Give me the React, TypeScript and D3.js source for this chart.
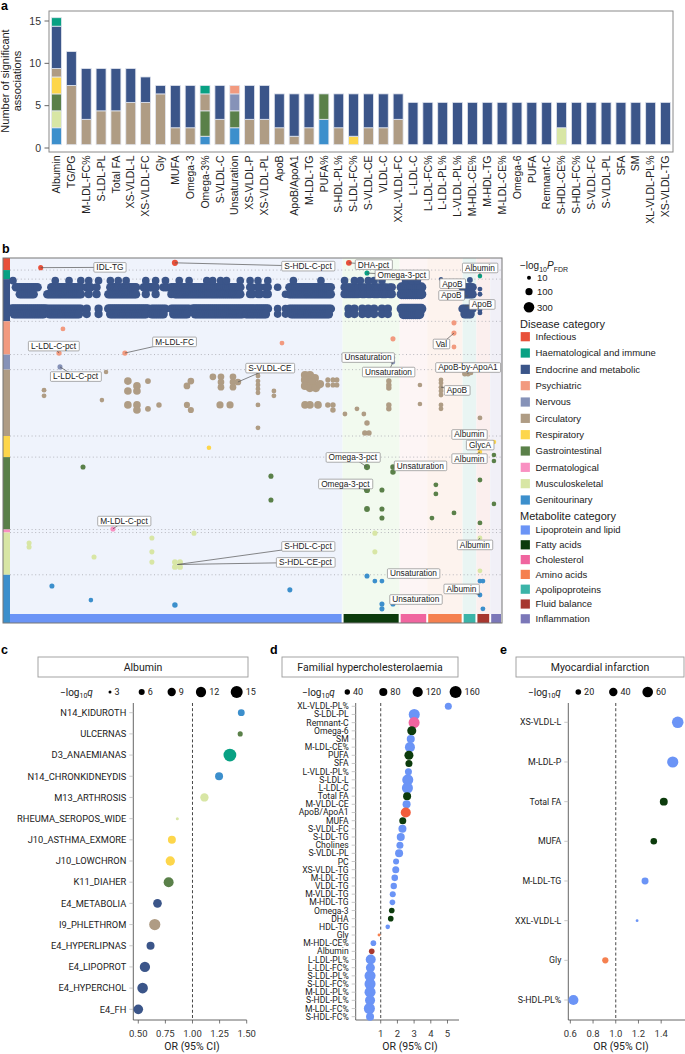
import React, { useEffect, useRef } from 'react';
import * as d3 from 'd3';

const FONT_A = "'Liberation Sans', Arial, Helvetica, sans-serif";
const FONT_R = "Roboto, 'Liberation Sans', Arial, sans-serif";

// ---------------- shared categories ----------------
const diseaseCategories = ['Infectious', 'Haematological and immune', 'Endocrine and metabolic', 'Psychiatric', 'Nervous', 'Circulatory', 'Respiratory', 'Gastrointestinal', 'Dermatological', 'Musculoskeletal', 'Genitourinary'];
const diseaseColors = ['#e8503a', '#08a183', '#3b5589', '#f29a7f', '#8692b8', '#af9c84', '#fdd64b', '#5a8049', '#f990c2', '#d8e6a5', '#3c8fcc'];
const metaboliteCategories = ['Lipoprotein and lipid', 'Fatty acids', 'Cholesterol', 'Amino acids', 'Apolipoproteins', 'Fluid balance', 'Inflammation'];
const metaboliteColors = ['#6b94f6', '#0c3b0c', '#f0659f', '#f5804f', '#3bb4a8', '#a7372f', '#7b77b8'];
const metaboliteBgColors = ['#eff3fc', '#f2faef', '#fdf5f5', '#fdf3ee', '#e9f5f3', '#fbefee', '#f1f0f7'];
const ratioColor = '#f25c3b';

// ---------------- panel a ----------------
const barMetabolites = ['Albumin', 'TG/PG', 'M-LDL-FC%', 'S-LDL-PL', 'Total FA', 'XS-VLDL-L', 'XS-VLDL-FC', 'Gly', 'MUFA', 'Omega-3', 'Omega-3%', 'S-VLDL-C', 'Unsaturation', 'XS-VLDL-P', 'XS-VLDL-PL', 'ApoB', 'ApoB/ApoA1', 'M-LDL-TG', 'PUFA%', 'S-HDL-PL%', 'S-LDL-FC%', 'S-VLDL-CE', 'VLDL-C', 'XXL-VLDL-FC', 'L-LDL-C', 'L-LDL-FC%', 'L-LDL-PL%', 'L-VLDL-PL%', 'M-HDL-CE%', 'M-HDL-TG', 'M-LDL-CE%', 'Omega-6', 'PUFA', 'Remnant-C', 'S-HDL-CE%', 'S-HDL-FC%', 'S-VLDL-FC', 'S-VLDL-PL', 'SFA', 'SM', 'XL-VLDL-PL%', 'XS-VLDL-TG'];
const countsGenitourinary = [2, 0, 0, 0, 0, 0, 0, 0, 0, 0, 1, 0, 2, 0, 0, 0, 0, 0, 3, 0, 0, 0, 0, 0, 0, 0, 0, 0, 0, 0, 0, 0, 0, 0, 0, 0, 0, 0, 0, 0, 0, 0];
const countsMusculoskeletal = [2, 0, 0, 0, 0, 0, 0, 0, 0, 0, 0, 0, 0, 0, 0, 0, 0, 0, 0, 0, 0, 0, 0, 0, 0, 0, 0, 0, 0, 0, 0, 0, 0, 0, 2, 0, 0, 0, 0, 0, 0, 0];
const countsGastrointestinal = [2, 0, 0, 0, 0, 0, 0, 0, 0, 0, 3, 0, 2, 0, 0, 0, 0, 0, 3, 0, 0, 0, 0, 0, 0, 0, 0, 0, 0, 0, 0, 0, 0, 0, 0, 0, 0, 0, 0, 0, 0, 0];
const countsRespiratory = [2, 0, 0, 0, 0, 0, 0, 0, 0, 0, 0, 0, 0, 0, 0, 0, 0, 0, 0, 0, 1, 0, 0, 0, 0, 0, 0, 0, 0, 0, 0, 0, 0, 0, 0, 0, 0, 0, 0, 0, 0, 0];
const countsCirculatory = [1, 7, 3, 4, 4, 5, 5, 6, 2, 2, 2, 3, 0, 3, 3, 2, 1, 2, 0, 2, 0, 2, 2, 3, 0, 0, 0, 0, 0, 0, 0, 0, 0, 0, 0, 0, 0, 0, 0, 0, 0, 0];
const countsNervous = [0, 0, 0, 0, 0, 0, 0, 0, 0, 0, 0, 0, 2, 0, 0, 0, 0, 0, 0, 0, 0, 0, 0, 0, 0, 0, 0, 0, 0, 0, 0, 0, 0, 0, 0, 0, 0, 0, 0, 0, 0, 0];
const countsPsychiatric = [0, 0, 0, 0, 0, 0, 0, 0, 0, 0, 0, 0, 1, 0, 0, 0, 0, 0, 0, 0, 0, 0, 0, 0, 0, 0, 0, 0, 0, 0, 0, 0, 0, 0, 0, 0, 0, 0, 0, 0, 0, 0];
const countsEndocrine = [5, 4, 6, 5, 5, 4, 3, 1, 5, 5, 0, 4, 0, 4, 4, 4, 5, 4, 0, 4, 5, 4, 4, 3, 5, 5, 5, 5, 5, 5, 5, 5, 5, 5, 3, 5, 5, 5, 5, 5, 5, 5];
const countsHaematological = [1, 0, 0, 0, 0, 0, 0, 0, 0, 0, 1, 0, 0, 0, 0, 0, 0, 0, 0, 0, 0, 0, 0, 0, 0, 0, 0, 0, 0, 0, 0, 0, 0, 0, 0, 0, 0, 0, 0, 0, 0, 0];
const yTicksA = [0, 5, 10, 15];

// ---------------- panel b ----------------
const diseasesPerCategory = [4, 3, 14, 11, 5, 22, 7, 24, 1, 14, 13];
const metabolitesPerCategory = [169, 29, 14, 18, 7, 7, 6];
// endocrine disease rows: runs of consecutive significant metabolites [diseaseRow, firstMetabolite, lastMetabolite, -log10P]
const endocrineRunsRow1 = [[3, 14, 170], [21, 36, 170], [39, 41, 170], [44, 44, 150], [51, 55, 170], [57, 64, 170], [68, 74, 170], [78, 80, 150], [82, 117, 170], [122, 123, 150], [126, 127, 150], [130, 131, 150], [136, 136, 120], [142, 163, 170], [170, 177, 150], [179, 180, 150], [182, 183, 150], [185, 187, 150], [189, 191, 150], [193, 194, 150], [199, 209, 260], [230, 235, 170]];
const endocrineRunsRow2 = [[5, 12, 170], [19, 36, 170], [40, 40, 150], [44, 44, 150], [50, 64, 170], [69, 69, 150], [74, 74, 150], [82, 82, 150], [84, 117, 170], [122, 123, 150], [126, 127, 150], [130, 131, 150], [140, 140, 120], [142, 163, 170], [170, 177, 150], [179, 180, 150], [182, 183, 150], [185, 187, 150], [189, 191, 150], [193, 194, 150], [199, 209, 260], [230, 235, 170]];
const endocrineRunsRow3 = [[1, 18, 180], [19, 36, 170], [39, 39, 150], [45, 45, 150], [50, 70, 180], [72, 79, 170], [82, 91, 170], [93, 131, 180], [136, 136, 120], [140, 140, 120], [142, 163, 170], [172, 172, 150], [175, 175, 150], [179, 179, 150], [182, 182, 150], [185, 185, 150], [189, 189, 150], [192, 192, 150], [199, 209, 260], [230, 235, 170]];
const endocrineRunsRow4 = [[2, 17, 170], [20, 35, 170], [39, 39, 150], [45, 45, 150], [51, 69, 180], [72, 78, 170], [83, 90, 170], [94, 118, 180], [120, 130, 170], [136, 136, 120], [140, 140, 120], [143, 162, 170], [172, 172, 150], [175, 175, 150], [179, 179, 150], [182, 182, 150], [185, 185, 150], [189, 189, 150], [192, 192, 150], [200, 208, 260], [231, 234, 170]];
const endocrineRunRows = [9.7, 12, 16.8, 18.6];
const endocrineSparseRow = 7.5;
const endocrineSparseMetabolites = [1.5, 23, 30, 36, 40, 45, 51, 55, 59, 69, 74, 79, 86, 91, 100, 103, 107, 110, 117, 122, 126, 131, 144, 158, 170, 175, 178, 182, 185, 189, 201, 204, 207];
// [metabolite, disease, -log10P]
const infectiousPoints = [[15.6, 3.2, 30], [83.8, 1.6, 60], [172.2, 1.6, 50]];
const haematologicalPoints = [[181.4, 5.0, 30], [238.8, 6.0, 20]];
const endocrinePoints = [[219, 7.0, 15], [233.7, 7.3, 50], [238.8, 10.3, 25], [238.8, 12, 25], [238.8, 17.2, 25], [238.8, 18.2, 25]];
const psychiatricPoints = [[26.9, 23.5, 25], [24.9, 31.5, 35], [58.4, 31.5, 35], [138.2, 28.2, 25], [194.6, 26.8, 30], [225.6, 21.5, 30], [225.6, 24.9, 30], [225.6, 29.5, 25]];
const nervousPoints = [[25.4, 36.1, 30], [194.6, 33.1, 20], [194.6, 34.5, 20]];
const circulatoryPoints = [
  [48.8, 37.8, 20], [126, 37.8, 25], [126, 39.1, 25], [126, 40.8, 25], [126, 42.1, 25], [126, 43.4, 25], [126, 44.7, 25], [126, 48.7, 25], [126, 56.3, 25],
  [17.3, 43.8, 25], [17.3, 45.7, 25],
  [59.9, 40.8, 120], [64.5, 42.4, 120], [59.9, 44.1, 120], [64.5, 44.1, 120], [70.1, 40.8, 50],
  [91.9, 40.8, 80], [89.9, 42.4, 80],
  [103.1, 39.4, 80], [107.2, 39.4, 80], [107.2, 41.1, 80], [107.2, 42.8, 80], [113.3, 39.4, 80], [113.3, 41.1, 80], [113.3, 42.8, 80], [115.8, 41.1, 80],
  [134.1, 44.1, 25], [134.1, 45.7, 25],
  [149.9, 38.8, 150], [152.4, 38.8, 150], [154.9, 39.8, 150], [149.9, 40.4, 150], [153.4, 41.1, 150], [156.5, 42.1, 150], [149.9, 42.4, 150], [152.4, 43.1, 150], [155.4, 43.1, 150], [157.5, 41.8, 150],
  [161.5, 40.4, 30], [164.1, 40.4, 30], [166.1, 40.4, 30], [161.5, 42.1, 30], [164.1, 42.1, 30], [166.1, 42.1, 30],
  [59.9, 48.7, 120], [64.5, 48.7, 120], [64.5, 50.4, 120], [70.1, 50, 50], [75.7, 48.7, 40], [89.9, 48.7, 60], [91.9, 50.4, 60], [106.7, 48.7, 100], [111.8, 48.7, 100], [149.9, 48.7, 120], [152.4, 48.7, 120], [156.5, 48.7, 120], [161.5, 48.7, 40], [164.1, 48.7, 40], [164.1, 50.4, 40],
  [46.7, 47.1, 20],
  [170.2, 51.7, 25], [176.3, 50, 25], [179.8, 51.7, 25], [181.4, 54.7, 40], [180.3, 58, 40], [182.4, 58, 40], [192.5, 40.8, 40], [192.5, 42.1, 40], [192.5, 43.1, 40], [192.5, 48.7, 40], [192.5, 50, 40], [208.3, 42.1, 20], [208.3, 48.4, 20],
  [219, 40.4, 25], [219, 41.4, 25], [219, 42.8, 25], [219, 44.1, 25], [219, 45.4, 25], [219, 48.7, 25], [219, 50, 25], [231.1, 38.4, 40], [232.7, 38.4, 40], [234.2, 38.1, 25], [238.8, 53, 25],
];
const respiratoryPoints = [[101.1, 62.9, 20], [238.8, 59.3, 20], [245.9, 61, 20], [238.8, 64.3, 20]];
const gastrointestinalPoints = [[37.1, 69.3, 30], [132.6, 72.3, 30], [132.6, 80.2, 30], [181.4, 69.3, 60], [181.4, 76.9, 60], [181.4, 83.2, 50], [189, 76.9, 30], [189, 83.2, 30], [189, 86.2, 30], [194.6, 69.3, 40], [194.6, 70.9, 40], [216.4, 75.2, 25], [216.4, 78.2, 25], [214.4, 86.2, 25], [225.6, 84.5, 25], [238.8, 73.6, 25], [238.8, 87.8, 25], [245.9, 65.3, 20], [245.9, 67.3, 20], [245.9, 81.5, 20]];
const dermatologicalPoints = [[52.3, 89.8, 30]];
const musculoskeletalPoints = [[9.7, 94.5, 30], [9.7, 95.8, 30], [42.7, 99.1, 30], [72.1, 92.8, 30], [72.1, 97.4, 30], [72.1, 100.8, 30], [93.5, 91.2, 30], [83.8, 100.8, 50], [86.4, 100.8, 50], [83.8, 102.4, 50], [86.4, 102.4, 50], [185.4, 91.2, 30], [185.4, 97.4, 30], [238.8, 92.8, 25], [238.8, 103.7, 25]];
const genitourinaryPoints = [[21.3, 108.7, 30], [41.1, 113.4, 20], [83.8, 115, 40], [142.2, 110, 30], [181.4, 105.4, 30], [185.4, 107.1, 25], [189, 107.1, 25], [194.6, 105.4, 30], [189, 114.7, 30], [189, 116.3, 30], [194.6, 114.7, 30], [238.8, 107.1, 25], [240.3, 107.1, 25], [238.8, 111.7, 25], [240.3, 116.3, 25]];
// annotations: [text, pointMetabolite, pointDisease, labelMetabolite, labelDisease]
const bAnnotations: Array<[string, number, number, number, number]> = [
  ['IDL-TG', 15.6, 3.2, 50.8, 3.1], ['S-HDL-C-pct', 83.8, 1.6, 151.4, 2.7], ['DHA-pct', 172.2, 1.6, 184.7, 2.2],
  ['Omega-3-pct', 181.4, 5.0, 199.1, 5.6], ['Albumin', 238.8, 6.0, 238.8, 3.3],
  ['ApoB', 219, 7.0, 224.8, 8.5], ['ApoB', 232.7, 12.6, 224.3, 12.4], ['ApoB', 231.1, 15.9, 239.8, 15.4],
  ['L-LDL-C-pct', 24.9, 31.5, 22.1, 29.2], ['M-LDL-FC', 58.4, 31.5, 83.6, 27.8], ['Val', 225.6, 24.9, 219.2, 28.5],
  ['L-LDL-C-pct', 25.4, 36.1, 33.3, 39.3], ['Unsaturation', 194.6, 33.1, 181.9, 33], ['Unsaturation', 194.6, 34.5, 192.3, 37.8],
  ['S-VLDL-CE', 115.8, 41.1, 132.1, 36.5], ['ApoB-by-ApoA1', 232.7, 38.4, 232.7, 36.3], ['ApoB', 219, 42.8, 227.1, 43.9],
  ['Albumin', 238.8, 59.3, 233.4, 58.5], ['GlycA', 245.9, 61, 238.8, 62], ['Albumin', 238.8, 64.3, 233.4, 66.5],
  ['Omega-3-pct', 181.4, 69.3, 174.2, 66.1], ['Omega-3-pct', 181.4, 76.9, 170.4, 74.9], ['Unsaturation', 194.6, 69.3, 208.5, 68.9],
  ['M-LDL-C-pct', 52.3, 89.8, 57.9, 87.2], ['S-HDL-C-pct', 85, 101.6, 151.4, 95.6], ['S-HDL-CE-pct', 85, 101.6, 150.1, 100.9],
  ['Albumin', 238.8, 92.8, 236.2, 95.1], ['Unsaturation', 194.6, 105.4, 205, 104.6], ['Unsaturation', 194.6, 114.7, 206.2, 113.2],
  ['Albumin', 238.8, 111.7, 229.4, 109.7],
];
const bSizeLegend = [10, 100, 300];

// ---------------- panel c ----------------
const albuminDiseases = ['N14_KIDUROTH', 'ULCERNAS', 'D3_ANAEMIANAS', 'N14_CHRONKIDNEYDIS', 'M13_ARTHROSIS', 'RHEUMA_SEROPOS_WIDE', 'J10_ASTHMA_EXMORE', 'J10_LOWCHRON', 'K11_DIAHER', 'E4_METABOLIA', 'I9_PHLETHROM', 'E4_HYPERLIPNAS', 'E4_LIPOPROT', 'E4_HYPERCHOL', 'E4_FH'];
const albuminOR = [1.45, 1.44, 1.345, 1.245, 1.11, 0.86, 0.81, 0.795, 0.78, 0.677, 0.652, 0.613, 0.561, 0.54, 0.5];
const albuminLogQ = [7, 5, 16.5, 8.5, 9, 3, 8.5, 10.5, 11.5, 9.5, 13.5, 8.5, 12, 12.5, 11];
const albuminDiseaseCategory = [10, 7, 1, 10, 9, 9, 6, 6, 7, 2, 5, 2, 2, 2, 2];
const albuminTicks = [0.5, 0.75, 1.0, 1.25, 1.5];
const albuminSizeLegend = [3, 6, 9, 12, 15];

// ---------------- panel d ----------------
const fhMetabolites = ['XL-VLDL-PL%', 'S-LDL-PL', 'Remnant-C', 'Omega-6', 'SM', 'M-LDL-CE%', 'PUFA', 'SFA', 'L-VLDL-PL%', 'S-LDL-L', 'L-LDL-C', 'Total FA', 'M-VLDL-CE', 'ApoB/ApoA1', 'MUFA', 'S-VLDL-FC', 'S-LDL-TG', 'Cholines', 'S-VLDL-PL', 'PC', 'XS-VLDL-TG', 'M-LDL-TG', 'VLDL-TG', 'M-VLDL-TG', 'M-HDL-TG', 'Omega-3', 'DHA', 'HDL-TG', 'Gly', 'M-HDL-CE%', 'Albumin', 'L-LDL-PL%', 'L-LDL-FC%', 'S-LDL-PL%', 'S-LDL-FC%', 'M-LDL-PL%', 'S-HDL-PL%', 'M-LDL-FC%', 'S-HDL-FC%'];
const fhOR = [5.05, 3.01, 3.0, 2.86, 2.8, 2.75, 2.69, 2.69, 2.66, 2.62, 2.6, 2.58, 2.55, 2.5, 2.32, 2.3, 2.2, 2.15, 2.1, 1.92, 1.9, 1.84, 1.78, 1.72, 1.7, 1.66, 1.6, 1.42, 0.9, 0.56, 0.46, 0.4, 0.38, 0.36, 0.36, 0.36, 0.36, 0.32, 0.36];
const fhLogQ = [62, 138, 138, 96, 78, 116, 96, 62, 62, 138, 138, 78, 78, 116, 62, 78, 78, 62, 78, 48, 62, 56, 53, 48, 43, 43, 43, 31, 16, 43, 43, 116, 96, 138, 138, 138, 116, 138, 78];
const fhMetaboliteCategory = ['Lipoprotein and lipid', 'Lipoprotein and lipid', 'Cholesterol', 'Fatty acids', 'Lipoprotein and lipid', 'Lipoprotein and lipid', 'Fatty acids', 'Fatty acids', 'Lipoprotein and lipid', 'Lipoprotein and lipid', 'Lipoprotein and lipid', 'Fatty acids', 'Lipoprotein and lipid', 'Ratio', 'Fatty acids', 'Lipoprotein and lipid', 'Lipoprotein and lipid', 'Lipoprotein and lipid', 'Lipoprotein and lipid', 'Lipoprotein and lipid', 'Lipoprotein and lipid', 'Lipoprotein and lipid', 'Lipoprotein and lipid', 'Lipoprotein and lipid', 'Lipoprotein and lipid', 'Fatty acids', 'Fatty acids', 'Lipoprotein and lipid', 'Amino acids', 'Lipoprotein and lipid', 'Fluid balance', 'Lipoprotein and lipid', 'Lipoprotein and lipid', 'Lipoprotein and lipid', 'Lipoprotein and lipid', 'Lipoprotein and lipid', 'Lipoprotein and lipid', 'Lipoprotein and lipid', 'Lipoprotein and lipid'];
const fhTicks = [1, 2, 3, 4, 5];
const fhSizeLegend = [40, 80, 120, 160];

// ---------------- panel e ----------------
const miMetabolites = ['XS-VLDL-L', 'M-LDL-P', 'Total FA', 'MUFA', 'M-LDL-TG', 'XXL-VLDL-L', 'Gly', 'S-HDL-PL%'];
const miOR = [1.546, 1.502, 1.423, 1.335, 1.258, 1.188, 0.908, 0.627];
const miLogQ = [70, 66, 36, 26, 29, 7, 24, 55];
const miMetaboliteCategory = ['Lipoprotein and lipid', 'Lipoprotein and lipid', 'Fatty acids', 'Fatty acids', 'Lipoprotein and lipid', 'Lipoprotein and lipid', 'Amino acids', 'Lipoprotein and lipid'];
const miTicks = [0.6, 0.8, 1.0, 1.2, 1.4];
const miSizeLegend = [20, 40, 60];

function metColor(name: string) {
  const i = metaboliteCategories.indexOf(name);
  return i >= 0 ? metaboliteColors[i] : ratioColor;
}

function drawPanelA(svg: any) {
  const g = svg.append('g');
  const x = d3.scaleBand().domain(barMetabolites).range([49, 673]).paddingInner(0.33).paddingOuter(0.17);
  const y = d3.scaleLinear().domain([0, 15]).range([144.7, 17.7]);
  const countsByCat: Record<string, number[]> = {
    'Genitourinary': countsGenitourinary, 'Musculoskeletal': countsMusculoskeletal, 'Gastrointestinal': countsGastrointestinal,
    'Respiratory': countsRespiratory, 'Circulatory': countsCirculatory, 'Nervous': countsNervous, 'Psychiatric': countsPsychiatric,
    'Endocrine and metabolic': countsEndocrine, 'Haematological and immune': countsHaematological,
  };
  const stackKeys = [10, 9, 8, 7, 6, 5, 4, 3, 2, 1, 0].map((i) => diseaseCategories[i]);
  const rows = barMetabolites.map((m, i) => {
    const r: any = { metabolite: m };
    stackKeys.forEach((k) => { r[k] = (countsByCat[k] || [])[i] || 0; });
    return r;
  });
  const series = d3.stack().keys(stackKeys)(rows);
  g.append('rect').attr('x', 49).attr('y', 11).attr('width', 624).attr('height', 141).attr('fill', 'none').attr('stroke', '#8a8a8a').attr('stroke-width', 1);
  series.forEach((s: any) => {
    const color = diseaseColors[diseaseCategories.indexOf(s.key)];
    g.selectAll(null).data(s.filter((d: any) => d[1] - d[0] > 0)).join('rect')
      .attr('x', (d: any) => x(d.data.metabolite)).attr('width', x.bandwidth())
      .attr('y', (d: any) => y(d[1])).attr('height', (d: any) => y(d[0]) - y(d[1]))
      .attr('fill', color).attr('stroke', '#e2e5ee').attr('stroke-width', 0.8);
  });
  yTicksA.forEach((v) => {
    g.append('line').attr('x1', 44.5).attr('x2', 49).attr('y1', y(v) + 3.3).attr('y2', y(v) + 3.3).attr('stroke', '#666');
    g.append('text').attr('x', 41).attr('y', y(v) + 3.3).attr('dy', '0.35em').attr('text-anchor', 'end').attr('font-size', 10.5).attr('font-family', FONT_A).attr('fill', '#333').text(v);
  });
  barMetabolites.forEach((m) => {
    const cx = (x(m) as number) + x.bandwidth() / 2;
    g.append('text').attr('transform', `translate(${cx},155.5) rotate(-90)`).attr('dy', '0.35em').attr('text-anchor', 'end').attr('font-size', 10.5).attr('font-family', FONT_A).attr('fill', '#222').text(m);
  });
  g.append('text').attr('transform', 'translate(9,81) rotate(-90)').attr('text-anchor', 'middle').attr('font-size', 11).attr('font-family', FONT_A).attr('fill', '#222').text('Number of significant');
  g.append('text').attr('transform', 'translate(21,81) rotate(-90)').attr('text-anchor', 'middle').attr('font-size', 11).attr('font-family', FONT_A).attr('fill', '#222').text('associations');
}

function drawPanelB(svg: any) {
  const g = svg.append('g');
  const x = d3.scaleLinear().domain([0, 250]).range([10, 502]);
  const y = d3.scaleLinear().domain([0, 118]).range([258, 614]);
  const r = d3.scaleSqrt().domain([10, 300]).range([2, 5.3]).clamp(true);

  let acc = 0;
  const metBounds = metabolitesPerCategory.map((n) => { const s = acc; acc += n; return [s, acc]; });
  metBounds.forEach(([s, e], i) => {
    g.append('rect').attr('x', x(s)).attr('y', 258).attr('width', x(e) - x(s)).attr('height', 356).attr('fill', metaboliteBgColors[i]);
  });
  acc = 0;
  const disBounds = diseasesPerCategory.map((n) => { const s = acc; acc += n; return [s, acc]; });
  disBounds.forEach(([s, e], i) => {
    const y1 = i === disBounds.length - 1 ? 623 : y(e);
    g.append('rect').attr('x', 3).attr('y', y(s)).attr('width', 7).attr('height', y1 - y(s)).attr('fill', diseaseColors[i]);
    if (i < disBounds.length - 1) {
      g.append('line').attr('x1', 10).attr('x2', 502).attr('y1', y(e)).attr('y2', y(e)).attr('stroke', '#a8a8b0').attr('stroke-width', 0.8).attr('stroke-dasharray', '1,2.6');
    }
  });

  const pts: Array<[number, number, number, number]> = [];
  [endocrineRunsRow1, endocrineRunsRow2, endocrineRunsRow3, endocrineRunsRow4].forEach((runs, ri) => {
    runs.forEach(([a, b, p]) => { for (let m = a; m <= b; m++) pts.push([m, endocrineRunRows[ri], p, 2]); });
  });
  endocrineSparseMetabolites.forEach((m) => pts.push([m, endocrineSparseRow, 120, 2]));
  const groups = [infectiousPoints, haematologicalPoints, endocrinePoints, psychiatricPoints, nervousPoints, circulatoryPoints, respiratoryPoints, gastrointestinalPoints, dermatologicalPoints, musculoskeletalPoints, genitourinaryPoints];
  groups.forEach((arr, ci) => arr.forEach(([m, d, p]) => pts.push([m, d, p, ci])));

  const lineG = g.append('g');
  g.selectAll(null).data(pts).join('circle')
    .attr('cx', (d: any) => x(d[0])).attr('cy', (d: any) => y(d[1])).attr('r', (d: any) => r(d[2]))
    .attr('fill', (d: any) => diseaseColors[d[3]]);

  metBounds.forEach(([s, e], i) => {
    g.append('rect').attr('x', x(s) + (i ? 1 : 0)).attr('y', 614).attr('width', x(e) - x(s) - (i ? 1 : 0) - 1).attr('height', 9).attr('fill', metaboliteColors[i]);
  });
  g.append('rect').attr('x', 3).attr('y', 258).attr('width', 499).attr('height', 365).attr('fill', 'none').attr('stroke', '#777').attr('stroke-width', 1);

  const labG = g.append('g');
  bAnnotations.forEach(([text, pm, pd, lm, ld]) => {
    lineG.append('line').attr('x1', x(pm)).attr('y1', y(pd)).attr('x2', x(lm)).attr('y2', y(ld)).attr('stroke', '#555').attr('stroke-width', 0.7);
    const lg = labG.append('g');
    const t = lg.append('text').attr('x', x(lm)).attr('y', y(ld)).attr('dy', '0.35em').attr('text-anchor', 'middle')
      .attr('font-size', 8.3).attr('font-family', FONT_A).attr('fill', '#222').text(text);
    const bb = (t.node() as SVGTextElement).getBBox();
    lg.insert('rect', 'text').attr('x', bb.x - 2.5).attr('y', y(ld) - 4.8).attr('width', bb.width + 5).attr('height', 9.6)
      .attr('fill', '#fff').attr('stroke', '#8a8a8a').attr('stroke-width', 0.7).attr('rx', 1);
  });
  g.node().insertBefore(lineG.node(), labG.node());

  const L = svg.append('g').attr('font-family', FONT_A).attr('fill', '#222');
  const t = L.append('text').attr('x', 520).attr('y', 269).attr('font-size', 10);
  t.append('tspan').text('\u2212log');
  t.append('tspan').attr('font-size', 7).attr('dy', 2.5).text('10');
  t.append('tspan').attr('dy', -2.5).attr('font-style', 'italic').text('P');
  t.append('tspan').attr('font-size', 7).attr('dy', 2.5).text('FDR');
  const sizeY = [277.7, 291.7, 307.3];
  bSizeLegend.forEach((v, i) => {
    L.append('circle').attr('cx', 529).attr('cy', sizeY[i]).attr('r', r(v)).attr('fill', '#000');
    L.append('text').attr('x', 537).attr('y', sizeY[i]).attr('dy', '0.35em').attr('font-size', 9.5).text(v);
  });
  L.append('text').attr('x', 520).attr('y', 327.5).attr('font-size', 11).text('Disease category');
  diseaseCategories.forEach((c, i) => {
    const cy = 336.7 + i * 16.33;
    L.append('rect').attr('x', 520.7).attr('y', cy - 4.6).attr('width', 9.2).attr('height', 9.2).attr('fill', diseaseColors[i]);
    L.append('text').attr('x', 535.5).attr('y', cy).attr('dy', '0.35em').attr('font-size', 9.5).text(c);
  });
  L.append('text').attr('x', 520).attr('y', 519.5).attr('font-size', 11).text('Metabolite category');
  metaboliteCategories.forEach((c, i) => {
    const cy = 530 + i * 14.8;
    L.append('rect').attr('x', 520.7).attr('y', cy - 4.6).attr('width', 9.2).attr('height', 9.2).attr('fill', metaboliteColors[i]);
    L.append('text').attr('x', 535.5).attr('y', cy).attr('dy', '0.35em').attr('font-size', 9.5).text(c);
  });
}

function drawForest(svg: any, cfg: any) {
  const g = svg.append('g').attr('font-family', FONT_R);
  const x = d3.scaleLinear().domain(cfg.xDomain).range(cfg.xRange);
  const y = d3.scalePoint().domain(cfg.names).range(cfg.yRange);
  const r = cfg.size;
  const x0 = cfg.xRange[0], x1 = cfg.xRange[1];
  g.append('rect').attr('x', cfg.box[0]).attr('y', 657).attr('width', cfg.box[1] - cfg.box[0]).attr('height', 20).attr('fill', '#fff').attr('stroke', '#9a9a9a').attr('stroke-width', 0.9);
  g.append('text').attr('x', (cfg.box[0] + cfg.box[1]) / 2).attr('y', 667).attr('dy', '0.35em').attr('text-anchor', 'middle').attr('font-size', 10.5).attr('fill', '#222').text(cfg.title);
  const lt = g.append('text').attr('x', cfg.legendX).attr('y', 692).attr('dy', '0.35em').attr('font-size', 10).attr('fill', '#222');
  lt.append('tspan').text('\u2212log');
  lt.append('tspan').attr('font-size', 7).attr('dy', 2.5).text('10');
  lt.append('tspan').attr('dy', -2.5).attr('font-style', 'italic').text('q');
  cfg.legendValues.forEach((v: number, i: number) => {
    const cx = cfg.legendCx[i];
    g.append('circle').attr('cx', cx).attr('cy', 692).attr('r', r(v)).attr('fill', '#000');
    g.append('text').attr('x', cx + r(v) + 3).attr('y', 692).attr('dy', '0.35em').attr('font-size', 9).attr('fill', '#222').text(v);
  });
  g.append('line').attr('x1', x0).attr('x2', x0).attr('y1', 703).attr('y2', 1020).attr('stroke', '#555').attr('stroke-width', 0.9);
  g.append('line').attr('x1', x0).attr('x2', x1).attr('y1', 1020).attr('y2', 1020).attr('stroke', '#555').attr('stroke-width', 0.9);
  cfg.names.forEach((n: string) => {
    g.append('line').attr('x1', x0 - 4).attr('x2', x0).attr('y1', y(n)).attr('y2', y(n)).attr('stroke', '#bbb').attr('stroke-width', 0.8);
    g.append('text').attr('x', x0 - 7).attr('y', y(n)).attr('dy', '0.35em').attr('text-anchor', 'end').attr('font-size', cfg.labelSize).attr('fill', '#222').text(n);
  });
  cfg.ticks.forEach((v: number) => {
    g.append('line').attr('x1', x(v)).attr('x2', x(v)).attr('y1', 1020).attr('y2', 1023.5).attr('stroke', '#555').attr('stroke-width', 0.8);
    g.append('text').attr('x', x(v)).attr('y', 1033.5).attr('dy', '0.35em').attr('text-anchor', 'middle').attr('font-size', 9.5).attr('fill', '#333').text(cfg.fmt(v));
  });
  g.append('line').attr('x1', x(1)).attr('x2', x(1)).attr('y1', 703).attr('y2', 1020).attr('stroke', '#333').attr('stroke-width', 0.9).attr('stroke-dasharray', '3,2.2');
  g.append('text').attr('x', cfg.axisTitleX).attr('y', 1050).attr('text-anchor', 'middle').attr('font-size', 10.5).attr('fill', '#222').text('OR (95% CI)');
  g.selectAll(null).data(cfg.names).join('circle')
    .attr('cx', (_: any, i: number) => x(cfg.values[i])).attr('cy', (n: string) => y(n))
    .attr('r', (_: any, i: number) => Math.max(1, r(cfg.q[i])))
    .attr('fill', (_: any, i: number) => cfg.colors[i]);
}

export default function App() {
  const ref = useRef<SVGSVGElement | null>(null);
  useEffect(() => {
    if (!ref.current) return;
    const svg = d3.select(ref.current);
    svg.selectAll('*').remove();
    svg.append('rect').attr('width', 685).attr('height', 1054).attr('fill', '#fff');
    drawPanelA(svg);
    drawPanelB(svg);
    drawForest(svg, {
      title: 'Albumin', box: [38, 248], names: albuminDiseases, values: albuminOR, q: albuminLogQ,
      colors: albuminDiseaseCategory.map((c) => diseaseColors[c]),
      xDomain: [0.454, 1.5], xRange: [133.3, 246.7], yRange: [712.7, 1009.3], ticks: albuminTicks, fmt: (v: number) => v.toFixed(2),
      labelSize: 9.3, legendX: 60, legendValues: albuminSizeLegend, legendCx: [110, 141.7, 171.7, 201, 236.7],
      size: d3.scaleSqrt().domain([3, 15]).range([1.5, 6]), axisTitleX: 192,
    });
    drawForest(svg, {
      title: 'Familial hypercholesterolaemia', box: [282, 458], names: fhMetabolites, values: fhOR, q: fhLogQ,
      colors: fhMetaboliteCategory.map(metColor),
      xDomain: [-0.5, 5.69], xRange: [355.7, 459], yRange: [706.3, 1016.7], ticks: fhTicks, fmt: (v: number) => String(v),
      labelSize: 8.6, legendX: 302, legendValues: fhSizeLegend, legendCx: [347.3, 383.3, 417.7, 455.6],
      size: d3.scaleSqrt().domain([40, 160]).range([2.7, 6]), axisTitleX: 410,
    });
    drawForest(svg, {
      title: 'Myocardial infarction', box: [516, 684], names: miMetabolites, values: miOR, q: miLogQ,
      colors: miMetaboliteCategory.map(metColor),
      xDomain: [0.582, 1.61], xRange: [568.3, 685], yRange: [722.3, 1000], ticks: miTicks, fmt: (v: number) => v.toFixed(1),
      labelSize: 8.8, legendX: 528, legendValues: miSizeLegend, legendCx: [578.3, 613.3, 647.7],
      size: d3.scaleSqrt().domain([20, 60]).range([2.8, 5.3]), axisTitleX: 621,
    });
    const letters: Array<[string, number, number]> = [['a', 1, 10], ['b', 2, 253], ['c', 1, 653.5], ['d', 270, 653.5], ['e', 500, 653.5]];
    letters.forEach(([l, lx, ly]) => {
      svg.append('text').attr('x', lx).attr('y', ly).attr('font-size', 12.5).attr('font-weight', 'bold').attr('font-family', FONT_A).attr('fill', '#000').text(l);
    });
  }, []);
  return <svg ref={ref} width={685} height={1054} style={{ position: 'absolute', left: 0, top: 0, display: 'block' }} />;
}
